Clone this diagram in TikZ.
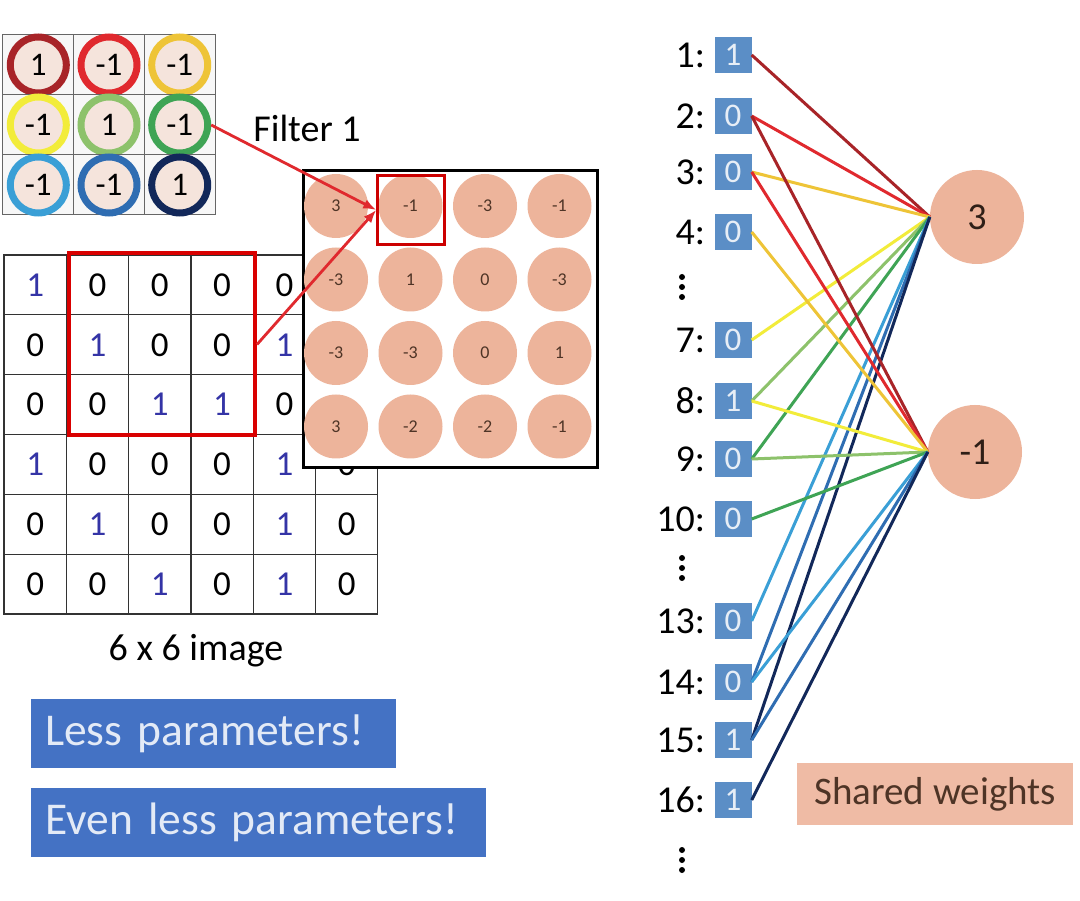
\documentclass[tikz,border=0pt]{standalone}
\usepackage{fontspec}
\setmainfont{Carlito}
\usepackage{tikz}
\usetikzlibrary{arrows.meta,positioning}
\definecolor{fdred}{HTML}{A82428}
\definecolor{fred}{HTML}{E0292E}
\definecolor{fgold}{HTML}{EEC437}
\definecolor{fyel}{HTML}{F2EC3A}
\definecolor{flgreen}{HTML}{8DC26B}
\definecolor{fgreen}{HTML}{3FA455}
\definecolor{flblue}{HTML}{3A9FD6}
\definecolor{fblue}{HTML}{2F6DB2}
\definecolor{fnavy}{HTML}{12285A}
\definecolor{ringfill}{HTML}{F5E4DC}
\definecolor{salmon}{HTML}{EDB49B}
\definecolor{inblue}{HTML}{5B8EC6}
\definecolor{btnblue}{HTML}{4472C4}
\definecolor{onecol}{HTML}{3434A6}
\definecolor{browntxt}{HTML}{4E3426}
\tikzset{
  fcell/.style={draw=black!60, fill=black!3, minimum width=70.7pt, minimum height=60pt, inner sep=0pt, line width=1pt},
  fring/.style={circle, line width=7pt, fill=ringfill, minimum size=56pt, inner sep=0pt, font=\fontsize{33}{33}\selectfont},
  icell/.style={draw=black!80, minimum width=62.3pt, minimum height=59.8pt, inner sep=0pt, line width=1.2pt, font=\fontsize{35}{35}\selectfont},
  ocirc/.style={circle, fill=salmon, minimum size=64pt, inner sep=0pt, text=browntxt, font=\fontsize{18}{18}\selectfont},
  selbox/.style={draw=red!80!black, line width=2.5pt, minimum width=67pt, minimum height=69pt},
  redarrow/.style={-{Latex[length=13pt,width=10pt]}, draw=fred, line width=2.8pt},
  inbox/.style={fill=inblue, text=white!85!inblue, minimum width=37pt, minimum height=36pt, inner sep=0pt, font=\fontsize{33}{33}\selectfont},
  inlbl/.style={font=\fontsize{38}{38}\selectfont, inner sep=1pt},
  neuron/.style={circle, fill=salmon, minimum size=94pt, inner sep=0pt, text=browntxt!60!black, font=\fontsize{38}{38}\selectfont},
  wt/.style={line width=3pt},
  btn/.style={fill=btnblue, text=white!85!btnblue, minimum height=69pt, inner xsep=14pt, align=left, font=\fontsize{45.5}{45.5}\selectfont},
  every node/.style={font=\fontsize{38}{38}\selectfont}
}

\begin{document}
\begin{tikzpicture}[x=1pt,y=-1pt]
\useasboundingbox[fill=white] (0,0) rectangle (1080,901);
% 6 x 6 image (cells under the feature map keep no text)
\foreach \r/\lst in {0/{1,0,0,0,0,1},1/{0,1,0,0,1,0},2/{0,0,1,1,0,0},3/{1,0,0,0,1,0},4/{0,1,0,0,1,0},5/{0,0,1,0,1,0}}
  \foreach \v [count=\k from 0] in \lst {
    \ifnum\v=1 \def\tc{onecol}\else\def\tc{black}\fi
    \pgfmathtruncatemacro\hid{(\r<3)&&(\k==5)}
    \ifnum\hid=1 \def\val{}\else\def\val{\v}\fi
    \node[icell, text=\tc] (i\r\k) at ({35.2+62.3*\k},{285+59.8*\r}) {\val};
  }
\node[draw=red!85!black, line width=4pt, minimum width=186pt, minimum height=182pt] (win) at (162,344.5) {};
\node (imglbl) at (196,651) {6 x 6 image};
% feature map
\node[draw, line width=3pt, fill=white, minimum width=294pt, minimum height=297pt] (out) at (450,319) {};
\foreach \r/\lst in {0/{3,-1,-3,-1},1/{-3,1,0,-3},2/{-3,-3,0,1},3/{3,-2,-2,-1}}
  \foreach \v [count=\k from 0] in \lst
    \node[ocirc] (o\r\k) at ({336+74.5*\k},{206+73.5*\r}) {\v};
\node[selbox] (sel) at (411,210) {};
% filter
\foreach \r/\lst in {0/{1/fdred,-1/fred,-1/fgold},1/{-1/fyel,1/flgreen,-1/fgreen},2/{-1/flblue,-1/fblue,1/fnavy}}
  \foreach \v/\c [count=\k from 0] in \lst {
    \node[fcell] (f\r\k) at ({38.3+70.7*\k},{65+60*\r}) {};
    \node[fring, draw=\c] (fc\r\k) at (f\r\k) {\v};
  }
\node (flbl) at (307,128) {Filter 1};
\draw[redarrow] (fc12.east) -- (sel.west);
\draw[redarrow] (win.east) -- (sel.west);
% buttons
\node[btn, anchor=west, text width=337pt] (less) at (31,733.5) {Less parameters!};
\node[btn, anchor=west, text width=427pt] (eless) at (31,822) {Even less parameters!};
% inputs
\foreach \k/\y/\v in {1/55/1,2/116/0,3/172/0,4/232/0,7/340/0,8/401/1,9/459/0,10/519/0,13/621/0,14/682/0,15/740/1,16/800/1} {
  \node[inbox] (in\k) at (733,\y) {\v};
  \node[inlbl, left=8pt of in\k] (lb\k) {\k:};
}
\foreach \y in {287,568,860}
  \foreach \d in {-10,0,10}
    \fill (682,\y+\d) circle (3pt);
\node[neuron] (hA) at (977,217) {3};
\node[neuron] (hB) at (975,452) {-1};
\foreach \k/\c in {1/fdred,2/fred,3/fgold,7/fyel,8/flgreen,9/fgreen,13/flblue,14/fblue,15/fnavy}
  \draw[wt, color=\c] (in\k.east) -- (hA.west);
\foreach \k/\c in {2/fdred,3/fred,4/fgold,8/fyel,9/flgreen,10/fgreen,14/flblue,15/fblue,16/fnavy}
  \draw[wt, color=\c] (in\k.east) -- (hB.west);
\node[fill=salmon!90!white, text=browntxt, minimum width=276pt, minimum height=62pt, font=\fontsize{39}{39}\selectfont] (shared) at (935,794) {Shared weights};
\end{tikzpicture}
\end{document}
